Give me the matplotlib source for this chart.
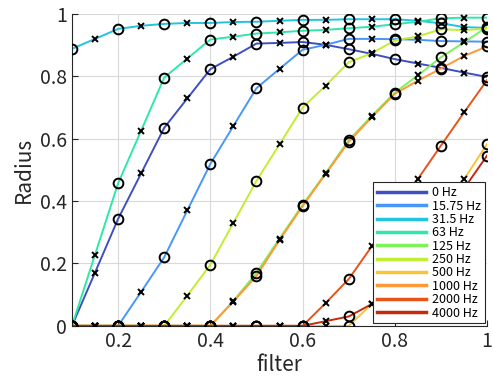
import matplotlib
matplotlib.use("Agg")
import matplotlib.pyplot as plt

plt.rcParams['font.family'] = ['Noto Sans CJK JP', 'DejaVu Sans']

filt = [0.1, 0.15, 0.2, 0.25, 0.3, 0.35, 0.4, 0.45, 0.5, 0.55,
        0.6, 0.65, 0.7, 0.75, 0.8, 0.85, 0.9, 0.95, 1.0]

labels = ['0 Hz', '15.75 Hz', '31.5 Hz', '63 Hz', '125 Hz',
          '250 Hz', '500 Hz', '1000 Hz', '2000 Hz', '4000 Hz']

colors = ['#3f4fc2', '#4897f8', '#22c4e0', '#2ee8a8', '#7df25a',
          '#c2ee30', '#f6c63a', '#ff9838', '#e8531a', '#c42a10']

r_0 = [0, 0.171, 0.343, 0.489, 0.635, 0.729, 0.823, 0.863, 0.905, 0.907,
       0.910, 0.901, 0.887, 0.872, 0.855, 0.841, 0.827, 0.812, 0.798]
r_15 = [0, 0, 0, 0.109, 0.220, 0.370, 0.519, 0.641, 0.762, 0.824,
        0.885, 0.901, 0.920, 0.920, 0.919, 0.917, 0.913, 0.912, 0.911]
r_31 = [0.888, 0.920, 0.952, 0.962, 0.968, 0.971, 0.971, 0.974, 0.975, 0.978,
        0.981, 0.981, 0.983, 0.983, 0.983, 0.978, 0.970, 0.958, 0.955]
r_63 = [0, 0.228, 0.457, 0.626, 0.796, 0.857, 0.918, 0.927, 0.937, 0.941,
        0.946, 0.949, 0.954, 0.959, 0.967, 0.975, 0.986, 0.988, 0.988]
r_125 = [0, 0, 0, 0, 0, 0, 0, 0.080, 0.170, 0.280,
         0.388, 0.490, 0.595, 0.673, 0.748, 0.803, 0.861, 0.909, 0.958]
r_250 = [0, 0, 0, 0, 0, 0.097, 0.196, 0.330, 0.465, 0.582,
         0.700, 0.770, 0.845, 0.874, 0.915, 0.928, 0.951, 0.948, 0.953]
r_500 = [0, 0, 0, 0, 0, 0, 0, 0, 0, 0,
         0, 0, 0, 0.070, 0.165, 0.265, 0.370, 0.470, 0.583]
r_1000 = [0, 0, 0, 0, 0, 0, 0, 0.078, 0.160, 0.275,
          0.384, 0.487, 0.590, 0.669, 0.744, 0.786, 0.825, 0.865, 0.896]
r_2000 = [0, 0, 0, 0, 0, 0, 0, 0, 0, 0,
          0, 0.073, 0.150, 0.255, 0.360, 0.471, 0.578, 0.684, 0.788]
r_4000 = [0, 0, 0, 0, 0, 0, 0, 0, 0, 0,
          0, 0.015, 0.030, 0.070, 0.140, 0.230, 0.330, 0.440, 0.546]

series = [r_0, r_15, r_31, r_63, r_125, r_250, r_500, r_1000, r_2000, r_4000]

fig = plt.figure(figsize=(4.93, 3.87), dpi=100)
ax = fig.add_axes([0.146, 0.158, 0.842, 0.806])

handles = []
for vals, col, lab in zip(series, colors, labels):
    h, = ax.plot(filt, vals, color=col, lw=1.4, label=lab, zorder=2)
    handles.append(h)
    ax.plot(filt[0::2], vals[0::2], ls='none', marker='o', ms=7,
            mfc='none', mec='black', mew=1.4, zorder=3)
    ax.plot(filt[1::2], vals[1::2], ls='none', marker='x', ms=5,
            mec='black', mew=1.4, zorder=3)

ax.set_xlim(0.1, 1)
ax.set_ylim(0, 1)
ax.set_xticks([0.2, 0.4, 0.6, 0.8, 1.0])
ax.set_xticklabels(['0.2', '0.4', '0.6', '0.8', '1'])
ax.set_yticks([0, 0.2, 0.4, 0.6, 0.8, 1.0])
ax.set_yticklabels(['0', '0.2', '0.4', '0.6', '0.8', '1'])
ax.grid(True, color='#d9d9d9', lw=0.8)
ax.set_axisbelow(True)
for s in ['top', 'right']:
    ax.spines[s].set_visible(False)
for s in ['left', 'bottom']:
    ax.spines[s].set_color('#262626')
ax.tick_params(direction='in', labelsize=14, colors='#262626', length=4)
ax.set_xlabel('filter', fontsize=15, color='#262626', labelpad=2)
ax.set_ylabel('Radius', fontsize=15, color='#262626', labelpad=4)

leg = ax.legend(handles=handles, loc='lower right', fontsize=9,
                handlelength=3.9, borderaxespad=0.2, labelspacing=0.03,
                fancybox=False, framealpha=1, edgecolor='#262626',
                borderpad=0.3, handletextpad=0.5)
leg.get_frame().set_linewidth(0.8)
for line in leg.get_lines():
    line.set_linewidth(2.5)

fig.savefig('out.png', dpi=100)
